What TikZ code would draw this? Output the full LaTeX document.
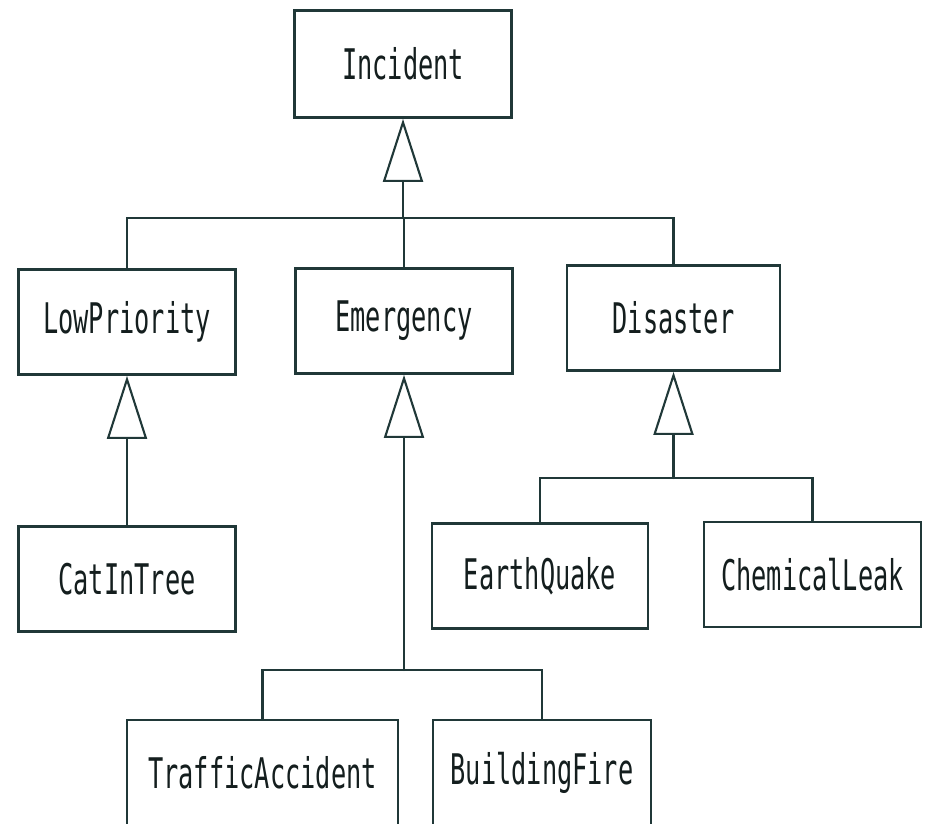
\documentclass[tikz,border=0pt]{standalone}
\usepackage{fontspec}
\newfontfamily\umlfont[FakeStretch=0.6]{DejaVu Sans Mono}
\usetikzlibrary{arrows.meta}
\definecolor{umlink}{HTML}{203838}
\definecolor{umltext}{HTML}{141E1E}

\begin{document}
\begin{tikzpicture}[
  x=1cm, y=1cm,
  font=\umlfont\fontsize{12}{14}\selectfont,
  line cap=round,
  cls/.style={draw=umlink, line width=0.8pt, minimum width=2.17cm, minimum height=1.05cm, inner sep=0pt, text=umltext},
  link/.style={draw=umlink, line width=0.6pt},
  isa/.style={link, -{Triangle[open, length=0.63cm, width=0.40cm, line width=0.6pt]}},
]
\useasboundingbox (0,0) rectangle (9.30,8.24);

% ---------- classes ----------
\node[cls, minimum height=1.07cm] (incident) at (4.03,7.60) {Incident};
\node[cls] (lowprio) at (1.27,5.02) {LowPriority};
\node[cls] (emerg) at (4.04,5.03) {Emergency};
\node[cls, minimum width=2.13cm] (disaster) at (6.735,5.06) {Disaster};
\node[cls] (catintree) at (1.27,2.45) {CatInTree};
\node[cls, minimum width=2.16cm] (quake) at (5.40,2.48) {EarthQuake};
\node[cls] (leak) at (8.125,2.495) {ChemicalLeak};
\node[cls, minimum width=2.71cm] (traffic) at (2.625,0.515) {TrafficAccident};
\node[cls, minimum width=2.18cm] (fire) at (5.42,0.515) {BuildingFire};

% ---------- generalisation ----------
\coordinate (incJ) at (4.03,6.06);
\draw[link] (lowprio.north) |- (incJ) -| (disaster.north);
\draw[link] (emerg.north) -- (emerg.north |- incJ);
\draw[isa] (incJ) -- (incident.south);

\draw[isa] (catintree.north) -- (lowprio.south);

\coordinate (emJ) at (4.04,1.54);
\draw[link] (traffic.north) |- (emJ) -| (fire.north);
\draw[isa] (emJ) -- (emerg.south);

\coordinate (disJ) at (6.735,3.46);
\draw[link] (quake.north) |- (disJ) -| (leak.north);
\draw[isa] (disJ) -- (disaster.south);
\end{tikzpicture}
\end{document}
